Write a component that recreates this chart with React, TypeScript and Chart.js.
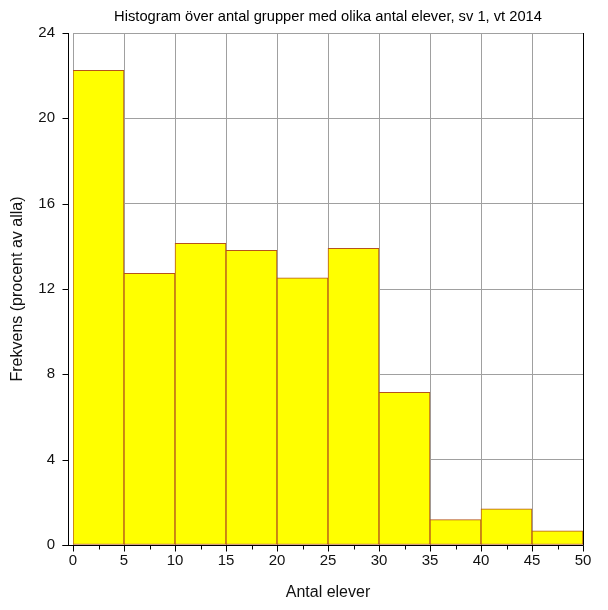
import { useEffect, useRef } from "react";
import { Chart, registerables } from "chart.js";

Chart.register(...registerables);

const chartTitle = "Histogram över antal grupper med olika antal elever, sv 1, vt 2014";
const xAxisTitle = "Antal elever";
const yAxisTitle = "Frekvens (procent av alla)";

const binStarts = [0, 5, 10, 15, 20, 25, 30, 35, 40, 45];
const binWidth = 5;
const frequencies = [22.25, 12.74, 14.14, 13.81, 12.52, 13.91, 7.16, 1.19, 1.69, 0.66];

const xMin = 0;
const xMax = 50;
const xStep = 5;
const xMinorStep = 2.5;
const yMin = 0;
const yMax = 24;
const yStep = 4;

const FONT = "'Liberation Sans', Arial, sans-serif";

const axesPlugin = {
  id: "customAxes",
  afterDraw(chart: any) {
    const { ctx, chartArea: a, scales } = chart;
    const x = scales.x;
    const y = scales.y;
    ctx.save();
    ctx.strokeStyle = "#000";
    ctx.lineWidth = 1;
    const yAxisX = Math.round(a.left) - 5 + 0.5;
    const bottom = Math.round(a.bottom) + 0.5;
    ctx.beginPath();
    ctx.moveTo(yAxisX, Math.round(a.top));
    ctx.lineTo(yAxisX, bottom);
    ctx.stroke();
    for (let v = yMin; v <= yMax; v += yStep) {
      const py = Math.round(y.getPixelForValue(v)) + 0.5;
      ctx.beginPath();
      ctx.moveTo(yAxisX - 6, py);
      ctx.lineTo(yAxisX, py);
      ctx.stroke();
    }
    ctx.beginPath();
    ctx.moveTo(yAxisX - 6, bottom);
    ctx.lineTo(Math.round(a.right) + 0.5, bottom);
    ctx.stroke();
    for (let v = xMin; v <= xMax + 1e-9; v += xMinorStep) {
      const px = Math.round(x.getPixelForValue(v)) + 0.5;
      const major = Math.abs(v / xStep - Math.round(v / xStep)) < 1e-6;
      ctx.beginPath();
      ctx.moveTo(px, bottom);
      ctx.lineTo(px, bottom + (major ? 6 : 4));
      ctx.stroke();
    }
    const rx = Math.round(a.right) + 0.5;
    ctx.beginPath();
    ctx.moveTo(rx, Math.round(a.top));
    ctx.lineTo(rx, bottom);
    ctx.stroke();
    ctx.restore();
  },
};

export default function App() {
  const canvasRef = useRef<HTMLCanvasElement | null>(null);

  useEffect(() => {
    if (!canvasRef.current) return;
    const points = binStarts.map((s, i) => ({ x: s + binWidth / 2, y: frequencies[i] }));
    const chart = new Chart(canvasRef.current, {
      type: "bar",
      data: {
        datasets: [
          {
            data: points as any,
            backgroundColor: "#ffff00",
            borderColor: "#b5531c",
            borderWidth: 1,
            barPercentage: 1,
            categoryPercentage: 1,
            borderSkipped: false,
          },
        ],
      },
      plugins: [axesPlugin],
      options: {
        animation: false,
        responsive: false,
        layout: { padding: { left: 0, right: 25, top: 0, bottom: 0 } },
        plugins: {
          legend: { display: false },
          tooltip: { enabled: false },
          title: {
            display: true,
            fullSize: false,
            text: chartTitle,
            color: "#000",
            font: { family: FONT, size: 14.7, weight: "normal", lineHeight: "16px" as any },
            padding: { top: 9, bottom: 8 },
          },
        },
        scales: {
          x: {
            type: "linear",
            min: xMin,
            max: xMax,
            offset: false,
            ticks: {
              stepSize: xStep,
              color: "#111",
              font: { family: FONT, size: 15 },
              padding: 7,
              maxRotation: 0,
            },
            grid: { color: "#a0a0a0", drawTicks: false, lineWidth: 1, offset: false },
            border: { display: false },
            title: {
              display: true,
              text: xAxisTitle,
              color: "#111",
              font: { family: FONT, size: 16 },
              padding: { top: 0, bottom: 8 },
            },
            afterFit(scale: any) {
              scale.height = 65;
            },
          },
          y: {
            type: "linear",
            min: yMin,
            max: yMax,
            ticks: {
              stepSize: yStep,
              color: "#111",
              font: { family: FONT, size: 15 },
              padding: 18,
            },
            grid: { color: "#a0a0a0", drawTicks: false, lineWidth: 1 },
            border: { display: false },
            title: {
              display: true,
              text: yAxisTitle,
              color: "#111",
              font: { family: FONT, size: 16 },
              padding: { top: 8, bottom: 0 },
            },
            afterFit(scale: any) {
              scale.width = 73;
            },
          },
        },
      },
    });
    return () => chart.destroy();
  }, []);

  return (
    <div style={{ position: "absolute", left: 0, top: 0, width: 608, height: 610, background: "#fff" }}>
      <canvas ref={canvasRef} width={608} height={610} />
    </div>
  );
}
